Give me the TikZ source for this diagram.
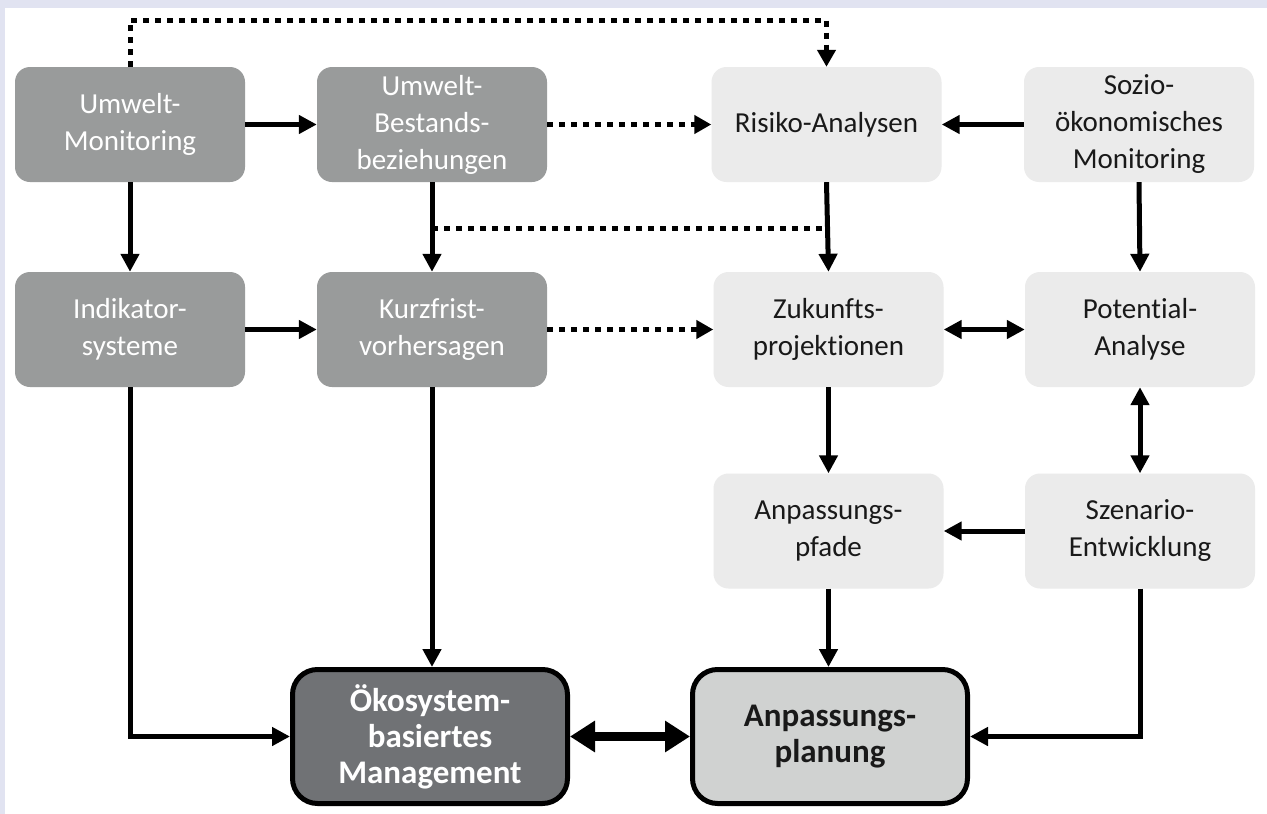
\documentclass[tikz,border=0pt]{standalone}
\usepackage{fontspec}
\setmainfont{Carlito}[Ligatures=CommonOff]
\usetikzlibrary{arrows.meta}
\definecolor{bglav}{HTML}{E1E3F1}
\definecolor{darkbox}{HTML}{999B9B}
\definecolor{lightbox}{HTML}{EBEBEB}
\definecolor{ombox}{HTML}{707275}
\definecolor{anbox}{HTML}{D0D2D1}
\begin{document}
\begin{tikzpicture}[x=1pt,y=-1pt,
  box/.style={rounded corners=15pt, minimum width=230pt, minimum height=115pt, inner sep=0pt,
    align=center, font=\fontsize{29}{37}\selectfont},
  dbox/.style={box, fill=darkbox, text=white},
  lbox/.style={box, fill=lightbox, text=black!90},
  bigbox/.style={rounded corners=25pt, minimum width=275pt, minimum height=134pt, inner sep=0pt,
    align=center, line width=5pt, draw=black, font=\fontsize{33}{36}\selectfont\bfseries},
  conn/.style={line width=5pt, -{Triangle[length=18pt,width=18pt]}},
  dconn/.style={line width=5pt, {Triangle[length=18pt,width=18pt]}-{Triangle[length=18pt,width=18pt]}},
  dotc/.style={line width=5pt, dash pattern=on 6pt off 6pt},
  dotarrow/.style={dotc, -{Triangle[length=17pt,width=18pt]}},
  thickd/.style={line width=9pt, {Triangle[length=25pt,width=30pt]}-{Triangle[length=25pt,width=30pt]}}
]
\useasboundingbox (0,0) rectangle (1267,814);
\fill[bglav] (0,0) rectangle (1267,814);
\fill[white] (5,8) rectangle (1267,814);

\node[dbox] (UM) at (130,124.5) {Umwelt-\\Monitoring};
\node[dbox] (UB) at (432,124.5) {Umwelt-\\Bestands-\\beziehungen};
\node[lbox] (RA) at (826.5,124.5) {Risiko-Analysen};
\node[lbox] (SM) at (1139,124.5) {Sozio-\\ökonomisches\\Monitoring};

\node[dbox] (IS) at (130,329.5) {Indikator-\\systeme};
\node[dbox] (KV) at (432,329.5) {Kurzfrist-\\vorhersagen};
\node[lbox] (ZP) at (828.5,329.5) {Zukunfts-\\projektionen};
\node[lbox] (PA) at (1140,329.5) {Potential-\\Analyse};

\node[lbox] (AP) at (828.5,531) {Anpassungs-\\pfade};
\node[lbox] (SE) at (1140,531) {Szenario-\\Entwicklung};

\node[bigbox, fill=ombox, text=white] (OM) at (430,736.5) {Ökosystem-\\basiertes\\Management};
\node[bigbox, fill=anbox, text=black!90] (AN) at (830,736.5) {Anpassungs-\\planung};

\coordinate (toprow) at (0,20);
\coordinate (midrow) at (0,228);

% solid connectors
\draw[conn] (UM) -- (UB);
\draw[conn] (UM.south) -- (IS.north);
\draw[conn] (UB.south) -- (KV.north);
\draw[conn] (IS) -- (KV);
\draw[conn] (SM) -- (RA);
\draw[conn] (RA.south) -- (ZP.north);
\draw[conn] (SM.south) -- (PA.north);
\draw[dconn] (ZP) -- (PA);
\draw[conn] (ZP.south) -- (AP.north);
\draw[dconn] (PA.south) -- (SE.north);
\draw[conn] (SE) -- (AP);
\draw[conn] (AP.south) -- (AP.south |- AN.north);
\draw[conn] (SE.south) |- (AN.east);
\draw[conn] (IS.south) |- (OM.west);
\draw[conn] (KV.south) -- (KV.south |- OM.north);
\draw[thickd] (OM) -- (AN);

% dotted connectors
\draw[dotarrow] (UB) -- (RA);
\draw[dotarrow] (KV) -- (ZP);
\draw[dotarrow] (UM.north) -- (UM.north |- toprow) -- (RA.north |- toprow) -- (RA.north);
\coordinate (d1) at (UB.south |- midrow);
\coordinate (d2) at (RA.south |- midrow);
\draw[dotc] (d1) -- (d2);
\end{tikzpicture}
\end{document}
